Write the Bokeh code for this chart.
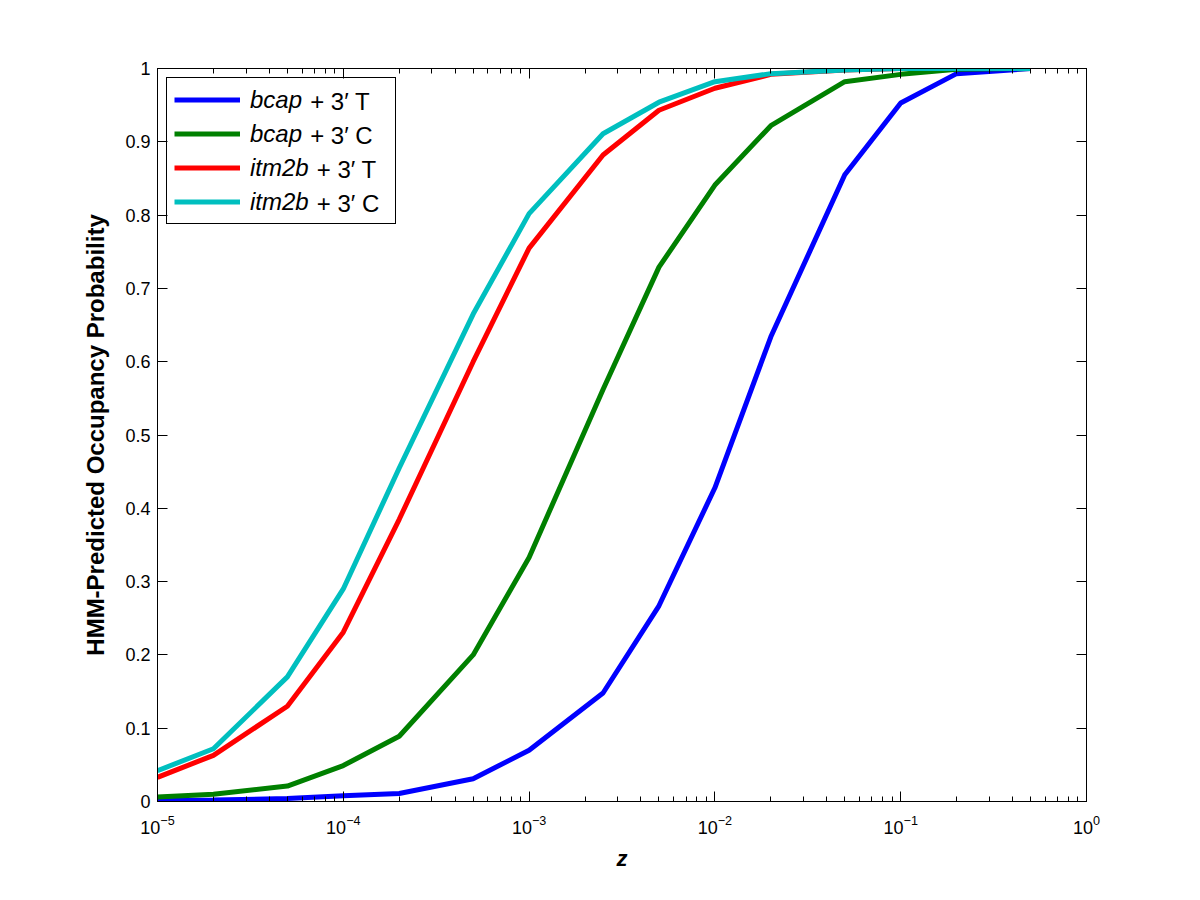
import math
from bokeh.plotting import figure
from bokeh.models import (Range1d, LogAxis, LinearAxis, LogTicker, FixedTicker,
                          Legend, LegendItem, Label, CustomJSTickFormatter)
from bokeh.embed import file_html
from bokeh.resources import INLINE

# ---------------- data ----------------
z_values = [1e-5, 2e-5, 5e-5, 1e-4, 2e-4, 5e-4, 1e-3, 2.5e-3, 5e-3,
            1e-2, 2e-2, 5e-2, 1e-1, 2e-1, 5e-1]
bcap_T = [0.001, 0.002, 0.004, 0.008, 0.011, 0.031, 0.070, 0.148, 0.267,
          0.428, 0.634, 0.855, 0.953, 0.993, 1.0]
bcap_C = [0.006, 0.010, 0.021, 0.049, 0.089, 0.200, 0.333, 0.562, 0.729,
          0.841, 0.922, 0.982, 0.992, 0.999, 1.0]
itm2b_T = [0.033, 0.063, 0.130, 0.231, 0.385, 0.600, 0.755, 0.882, 0.943,
           0.973, 0.992, 0.998, 1.0, 1.0, 1.0]
itm2b_C = [0.042, 0.072, 0.170, 0.290, 0.455, 0.665, 0.802, 0.911, 0.954,
           0.982, 0.993, 0.998, 1.0, 1.0, 1.0]

series_values = [bcap_T, bcap_C, itm2b_T, itm2b_C]
series_gene = ["bcap", "bcap", "itm2b", "itm2b"]
series_suffix = ["+ 3\u2032 T", "+ 3\u2032 C", "+ 3\u2032 T", "+ 3\u2032 C"]
series_colors = ["#0000FF", "#008000", "#FF0000", "#00BFBF"]

y_ticks = [0, 0.1, 0.2, 0.3, 0.4, 0.5, 0.6, 0.7, 0.8, 0.9, 1.0]
x_label = "z"
y_label = "HMM-Predicted Occupancy Probability"

X_MIN, X_MAX = 1e-5, 1.0
Y_MIN, Y_MAX = 0.0, 1.0

# ---------------- layout ----------------
FONT = "Liberation Sans"
W, H = 1184, 884
BL, BR, BT, BB = 157, 98, 68, 83
FRAME_W = W - BL - BR
FRAME_H = H - BT - BB

p = figure(width=W, height=H, x_axis_type="log",
           x_range=Range1d(X_MIN, X_MAX), y_range=Range1d(Y_MIN, Y_MAX),
           output_backend="svg", toolbar_location=None,
           min_border_left=BL, min_border_right=BR,
           min_border_top=BT, min_border_bottom=BB)
p.xgrid.grid_line_color = None
p.ygrid.grid_line_color = None
p.outline_line_color = "black"
p.outline_line_width = 1
p.outline_line_alpha = 1.0
p.background_fill_color = "white"
p.border_fill_color = "white"


def style_axis(ax, minor=True):
    ax.axis_line_color = "black"
    ax.axis_line_width = 1
    ax.major_tick_in = 10
    ax.major_tick_out = 0
    ax.minor_tick_in = 5
    ax.minor_tick_out = 0
    ax.major_tick_line_color = "black"
    ax.minor_tick_line_color = "black" if minor else None
    ax.major_label_text_font = FONT
    ax.major_label_text_font_size = "18px"
    ax.major_label_text_color = "black"


xb = p.below[0]
xb.ticker = LogTicker(num_minor_ticks=10)
style_axis(xb)
xb.major_label_standoff = 13
xb.axis_label = x_label
xb.axis_label_text_font = FONT
xb.axis_label_text_font_size = "22px"
xb.axis_label_text_font_style = "bold italic"
xb.axis_label_text_color = "black"
xb.axis_label_standoff = 9

yl = p.left[0]
yl.ticker = FixedTicker(ticks=y_ticks)
yl.formatter = CustomJSTickFormatter(code="return tick.toFixed(1).replace(/\\.0$/, '');")
style_axis(yl, minor=False)
yl.major_label_standoff = 7
yl.axis_label = y_label
yl.axis_label_text_font = FONT
yl.axis_label_text_font_size = "24px"
yl.axis_label_text_font_style = "bold"
yl.axis_label_text_color = "black"
yl.axis_label_standoff = 13

blank = "return '';"
xt = LogAxis(ticker=LogTicker(num_minor_ticks=10),
             formatter=CustomJSTickFormatter(code=blank))
style_axis(xt)
xt.major_label_standoff = 0
p.add_layout(xt, "above")

yr = LinearAxis(ticker=FixedTicker(ticks=y_ticks),
                formatter=CustomJSTickFormatter(code=blank))
style_axis(yr, minor=False)
yr.major_label_standoff = 0
p.add_layout(yr, "right")

# ---------------- lines ----------------
items = []
for ys, color, gene in zip(series_values, series_colors, series_gene):
    r = p.line(z_values, ys, line_color=color, line_width=5)
    items.append(LegendItem(label=gene, renderers=[r]))

# ---------------- legend ----------------
LEG_PAD = 7
ROW_H = 29
SPACING = 5
GLYPH_W = 66
STANDOFF = 10
LEG_FONT = 24
n = len(items)
leg_h = 2 * LEG_PAD + n * ROW_H + (n - 1) * SPACING
LEG_X = 9
LEG_TOP = 722
LEG_Y = LEG_TOP - leg_h

legend = Legend(items=items, location=(LEG_X, LEG_Y), margin=0,
                padding=LEG_PAD, spacing=SPACING,
                glyph_width=GLYPH_W, glyph_height=ROW_H,
                label_height=ROW_H, label_width=138,
                label_standoff=STANDOFF,
                label_text_font=FONT, label_text_font_size=f"{LEG_FONT}px",
                label_text_font_style="italic", label_text_color="black",
                border_line_color="black", border_line_width=1,
                border_line_alpha=1.0,
                background_fill_color="white", background_fill_alpha=0.0)
p.add_layout(legend)


# frame pixel -> data position (for placing the upright legend suffixes)
def px_to_x(sx):
    lo, hi = math.log10(X_MIN), math.log10(X_MAX)
    return 10 ** (lo + (hi - lo) * sx / FRAME_W)


def px_to_y(sy):
    return Y_MIN + (Y_MAX - Y_MIN) * sy / FRAME_H


gene_em = {"bcap": 2.168, "itm2b": 2.445}
space_em = 0.36
text_x0 = LEG_X + LEG_PAD + GLYPH_W + STANDOFF
for i, (gene, suf) in enumerate(zip(series_gene, series_suffix)):
    cy = LEG_TOP - LEG_PAD - ROW_H / 2 - i * (ROW_H + SPACING)
    sx = text_x0 + (gene_em[gene] + space_em) * LEG_FONT
    p.add_layout(Label(x=px_to_x(sx), y=px_to_y(cy),
                       text=suf, text_font=FONT,
                       text_font_size=f"{LEG_FONT}px",
                       text_baseline="middle", text_align="left",
                       text_color="black"))

open("out.html", "w").write(file_html(p, INLINE))
